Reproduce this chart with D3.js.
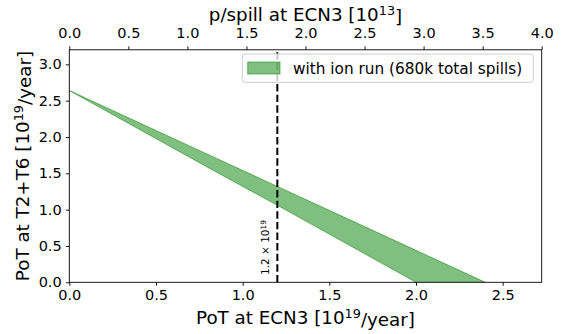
<!DOCTYPE html>
<meta charset="utf-8">
<script src="https://d3js.org/d3.v7.min.js"></script>
<style>
  body { margin: 0; background: #fff; }
  svg text { font-family: "DejaVu Sans", sans-serif; fill: #000; }
</style>
<svg id="chart" width="574" height="334"></svg>

<script>
// band: PoT at T2+T6 vs PoT at ECN3 (both in 1e19/year)
var potEcn3   = [0, 0.4, 0.8, 1.2, 1.6, 2.0, 2.4];
var upperT2T6 = [2.64, 2.20, 1.76, 1.32, 0.88, 0.44, 0.00];
var lowerT2T6 = [2.64, 2.11, 1.58, 1.06, 0.53, 0.00, -0.53];

var xTicks   = [0, 0.5, 1.0, 1.5, 2.0, 2.5];
var yTicks   = [0, 0.5, 1.0, 1.5, 2.0, 2.5, 3.0];
var topTicks = [0, 0.5, 1.0, 1.5, 2.0, 2.5, 3.0, 3.5, 4.0];

var markerPoT = 1.2;
var legendLabel = "with ion run (680k total spills)";

var svg = d3.select("#chart");
// plot box (note: "top" is a reserved window property, so use pl/pr/pt/pb)
var pl = 69.3, pr = 541.7, pt = 49.8, pb = 282.3;

var x = d3.scaleLinear().domain([0, 2.725]).range([pl, pr]);
var xTop = d3.scaleLinear().domain([0, 4]).range([pl, pr]);
var y = d3.scaleLinear().domain([0, 3.2]).range([pb, pt]);

var band = potEcn3.map(function(v, i){ return {x: v, hi: upperT2T6[i], lo: lowerT2T6[i]}; });

svg.append("clipPath").attr("id", "plotclip")
  .append("rect").attr("x", pl).attr("y", pt)
  .attr("width", pr - pl).attr("height", pb - pt);

var area = d3.area()
  .x(function(d){ return x(d.x); })
  .y0(function(d){ return y(d.lo); })
  .y1(function(d){ return y(d.hi); });

svg.append("path")
  .datum(band)
  .attr("clip-path", "url(#plotclip)")
  .attr("d", area)
  .attr("fill", "green").attr("fill-opacity", 0.5)
  .attr("stroke", "green").attr("stroke-opacity", 0.5).attr("stroke-width", 1);

// vertical marker
svg.append("line")
  .attr("x1", x(markerPoT)).attr("x2", x(markerPoT))
  .attr("y1", pb).attr("y2", pt)
  .attr("stroke", "#000").attr("stroke-width", 2)
  .attr("stroke-dasharray", "7.4,3.2");

var mt = svg.append("text")
  .attr("transform", "translate(" + (x(markerPoT) - 8.5) + ",275) rotate(-90)")
  .style("font-size", "10.5px");
mt.append("tspan").text("1.2 \u00d7 10");
mt.append("tspan").attr("dy", "-0.45em").style("font-size", "7.4px").text("19");

// legend
var lg = svg.append("g");
lg.append("rect")
  .attr("x", 242.3).attr("y", 54).attr("width", 291).attr("height", 28.3)
  .attr("rx", 3).attr("fill", "#fff").attr("fill-opacity", 0.8)
  .attr("stroke", "#ccc").attr("stroke-width", 1);
lg.append("rect")
  .attr("x", 247.7).attr("y", 62).attr("width", 32.3).attr("height", 12)
  .attr("fill", "green").attr("fill-opacity", 0.5)
  .attr("stroke", "green").attr("stroke-opacity", 0.5);
lg.append("text").attr("x", 293).attr("y", 74.3)
  .style("font-size", "15.3px").text(legendLabel);

// frame
svg.append("rect")
  .attr("x", pl).attr("y", pt)
  .attr("width", pr - pl).attr("height", pb - pt)
  .attr("fill", "none").attr("stroke", "#000").attr("stroke-width", 0.9);

var fmt = d3.format(".1f");

var gx = svg.append("g").attr("transform", "translate(0," + pb + ")")
  .call(d3.axisBottom(x).tickValues(xTicks).tickFormat(fmt).tickSize(3.5).tickPadding(4.2));
var gy = svg.append("g").attr("transform", "translate(" + pl + ",0)")
  .call(d3.axisLeft(y).tickValues(yTicks).tickFormat(fmt).tickSize(3.5).tickPadding(4.1));
var gt = svg.append("g").attr("transform", "translate(0," + pt + ")")
  .call(d3.axisTop(xTop).tickValues(topTicks).tickFormat(fmt).tickSize(3.5).tickPadding(8.2));

[gx, gy, gt].forEach(function(g){
  g.select(".domain").remove();
  g.selectAll(".tick line").attr("stroke", "#000").attr("stroke-width", 0.9);
  g.selectAll(".tick text").style("font-size", "14.5px")
    .attr("font-family", null).attr("fill", "#000");
});

// axis titles with superscripts
function label(sel, before, sup, after) {
  sel.append("tspan").text(before);
  sel.append("tspan").attr("dy", "-0.45em").style("font-size", "12.8px").text(sup);
  sel.append("tspan").attr("dy", "0.45em").text(after);
}

label(svg.append("text").attr("x", (pl + pr) / 2).attr("y", 324)
  .attr("text-anchor", "middle").style("font-size", "18.3px"),
  "PoT at ECN3 [10", "19", "/year]");

label(svg.append("text").attr("x", (pl + pr) / 2).attr("y", 20.7)
  .attr("text-anchor", "middle").style("font-size", "18.3px"),
  "p/spill at ECN3 [10", "13", "]");

label(svg.append("text")
  .attr("transform", "translate(28.5," + ((pt + pb) / 2) + ") rotate(-90)")
  .attr("text-anchor", "middle").style("font-size", "18.3px"),
  "PoT at T2+T6 [10", "19", "/year]");
</script>
